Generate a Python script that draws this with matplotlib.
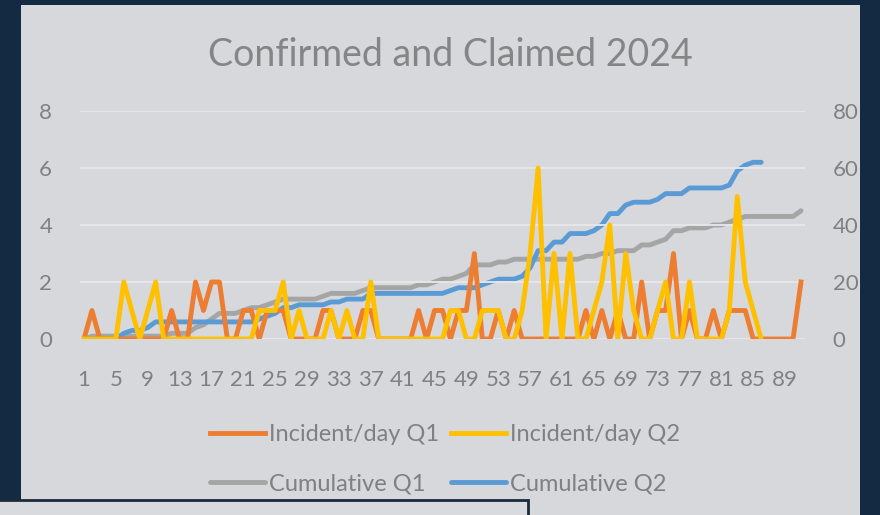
import numpy as np
import matplotlib.pyplot as plt
from matplotlib.patches import Rectangle

# daily incidents, Q1 has 91 days, Q2 data stops at day 86
q1_daily = [0, 1, 0, 0, 0, 0, 0, 0, 0, 0,
            0, 1, 0, 0, 2, 1, 2, 2, 0, 0,
            1, 1, 0, 1, 1, 1, 0, 0, 0, 0,
            1, 1, 0, 0, 0, 1, 1, 0, 0, 0,
            0, 0, 1, 0, 1, 1, 0, 1, 1, 3,
            0, 0, 1, 0, 1, 0, 0, 0, 0, 0,
            0, 0, 0, 1, 0, 1, 0, 1, 0, 0,
            2, 0, 1, 1, 3, 0, 1, 0, 0, 1,
            0, 1, 1, 1, 0, 0, 0, 0, 0, 0,
            2]
q2_daily = [0, 0, 0, 0, 0, 2, 1, 0, 1, 2,
            0, 0, 0, 0, 0, 0, 0, 0, 0, 0,
            0, 0, 1, 1, 1, 2, 0, 1, 0, 0,
            0, 1, 0, 1, 0, 0, 2, 0, 0, 0,
            0, 0, 0, 0, 0, 0, 1, 1, 0, 0,
            1, 1, 1, 0, 0, 1, 3, 6, 0, 3,
            0, 3, 0, 0, 1, 2, 4, 0, 3, 1,
            0, 0, 1, 2, 0, 0, 2, 0, 0, 0,
            0, 1, 5, 2, 1, 0]
q1_cum = [0, 1, 1, 1, 1, 1, 1, 1, 1, 1,
          1, 2, 2, 2, 4, 5, 7, 9, 9, 9,
          10, 11, 11, 12, 13, 14, 14, 14, 14, 14,
          15, 16, 16, 16, 16, 17, 18, 18, 18, 18,
          18, 18, 19, 19, 20, 21, 21, 22, 23, 26,
          26, 26, 27, 27, 28, 28, 28, 28, 28, 28,
          28, 28, 28, 29, 29, 30, 30, 31, 31, 31,
          33, 33, 34, 35, 38, 38, 39, 39, 39, 40,
          40, 41, 42, 43, 43, 43, 43, 43, 43, 43,
          45]
q2_cum = [0, 0, 0, 0, 0, 2, 3, 3, 4, 6,
          6, 6, 6, 6, 6, 6, 6, 6, 6, 6,
          6, 6, 7, 8, 9, 11, 11, 12, 12, 12,
          12, 13, 13, 14, 14, 14, 16, 16, 16, 16,
          16, 16, 16, 16, 16, 16, 17, 18, 18, 18,
          19, 20, 21, 21, 21, 22, 25, 31, 31, 34,
          34, 37, 37, 37, 38, 40, 44, 44, 47, 48,
          48, 48, 49, 51, 51, 51, 53, 53, 53, 53,
          53, 54, 59, 61, 62, 62]

days_q1 = np.arange(1, len(q1_daily) + 1)
days_q2 = np.arange(1, len(q2_daily) + 1)
xticks = np.arange(1, 92, 4)

txt_color = '#808080'
plt.rcParams['font.family'] = ['Lato', 'DejaVu Sans']

fig = plt.figure(figsize=(8.8, 5.15), dpi=100, facecolor='#142a43')
# light chart panel
fig.patches.append(Rectangle((21 / 880, 0), 839 / 880, 510 / 515, transform=fig.transFigure,
                             facecolor='#d7d8dc', edgecolor='none', zorder=-10))
# box overlapping the bottom left corner
fig.patches.append(Rectangle((-0.01, -0.01), 537 / 880, 20 / 515, transform=fig.transFigure,
                             facecolor='#d9dadd', edgecolor='#1b2b3c', lw=2, zorder=5))

ax = fig.add_axes([80 / 880, (515 - 339) / 515, 725 / 880, 228 / 515])
ax2 = ax.twinx()

lw = 3.5
l1, = ax.plot(days_q1, q1_daily, color='#ed7d31', lw=lw, label='Incident/day Q1')
l2, = ax.plot(days_q2, q2_daily, color='#ffc000', lw=lw, label='Incident/day Q2')
l3, = ax2.plot(days_q1, q1_cum, color='#a5a5a5', lw=lw, solid_capstyle='round', label='Cumulative Q1')
l4, = ax2.plot(days_q2, q2_cum, color='#5b9bd5', lw=lw, solid_capstyle='round', label='Cumulative Q2')

ax.set_zorder(ax2.get_zorder() + 1)
ax.patch.set_visible(False)

ax.set_xlim(0.5, 91.5)
ax.set_ylim(0, 8)
ax2.set_ylim(0, 80)
ax.set_yticks([0, 2, 4, 6, 8])
ax2.set_yticks([0, 20, 40, 60, 80])
ax.set_xticks(xticks)
ax.set_xticklabels([str(t) for t in xticks])
for a in (ax, ax2):
    for s in a.spines.values():
        s.set_visible(False)
ax.grid(axis='y', color='#e8e8ea', lw=1.3)
ax.set_axisbelow(True)
ax.tick_params(axis='y', length=0, pad=20, labelsize=16, labelcolor=txt_color)
ax.tick_params(axis='x', length=0, pad=22, labelsize=16, labelcolor=txt_color)
ax2.tick_params(axis='y', length=0, pad=20, labelsize=16, labelcolor=txt_color)

fig.text(450 / 880, (515 - 55) / 515, 'Confirmed and Claimed 2024', ha='center', va='center',
         fontsize=27, color='#858585')

fig.legend(handles=[l1, l3, l2, l4], loc='center', bbox_to_anchor=(0.506, (515 - 459) / 515),
           ncol=2, frameon=False, fontsize=17, labelcolor=txt_color, handlelength=2.3,
           handletextpad=0.2, columnspacing=0.5, labelspacing=1.2)

fig.savefig('out.png', dpi=100, facecolor=fig.get_facecolor())
